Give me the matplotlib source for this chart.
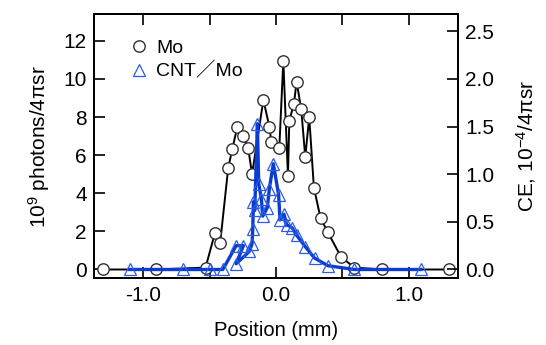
import matplotlib
matplotlib.use("Agg")
import matplotlib.pyplot as plt
from matplotlib.ticker import FixedLocator

plt.rcParams['font.family'] = ['Liberation Sans', 'Noto Sans CJK JP', 'DejaVu Sans']
plt.rcParams['mathtext.fontset'] = 'custom'
plt.rcParams['mathtext.rm'] = 'Liberation Sans'
plt.rcParams['axes.unicode_minus'] = False

# Mo series (position mm, 10^9 photons/4pi sr)
mo_x = [-1.30, -0.90, -0.53, -0.46, -0.42, -0.36, -0.33, -0.29, -0.25, -0.21, -0.18,
        -0.095, -0.05, -0.035, 0.025, 0.055, 0.09, 0.10, 0.135, 0.155, 0.19, 0.22,
        0.25, 0.285, 0.335, 0.39, 0.49, 0.59, 0.80, 1.30]
mo_y = [0.0, 0.0, 0.1, 1.9, 1.4, 5.3, 6.3, 7.5, 7.0, 6.4, 5.0,
        8.9, 7.5, 6.7, 6.4, 10.95, 4.9, 7.8, 8.7, 9.86, 8.4, 5.9,
        8.0, 4.3, 2.7, 1.95, 0.65, 0.1, 0.0, 0.0]

# CNT/Mo series
cnt_x = [-1.10, -0.70, -0.50, -0.40, -0.30, -0.245, -0.30, -0.20, -0.18, -0.175,
         -0.17, -0.16, -0.14, -0.13, -0.11, -0.10, -0.065, -0.05, -0.02, 0.02,
         0.03, 0.06, 0.08, 0.12, 0.155, 0.22, 0.29, 0.39, 0.59, 1.09]
cnt_y = [0.0, 0.0, 0.0, 0.0, 1.25, 1.25, 0.3, 0.95, 1.35, 2.1,
         3.55, 3.1, 7.65, 4.5, 3.7, 2.8, 3.25, 4.25, 5.55, 3.9,
         2.6, 2.9, 2.35, 2.2, 1.8, 1.2, 0.6, 0.2, 0.0, 0.0]

x_major = [-1.0, 0.0, 1.0]
x_minor = [-0.5, 0.5]
x_labels = ['-1.0', '0.0', '1.0']
y_left_ticks = [0, 2, 4, 6, 8, 10, 12]
y_right_ticks = [0.0, 0.5, 1.0, 1.5, 2.0, 2.5]

fig = plt.figure(figsize=(5.46, 3.45), dpi=100)
ax = fig.add_axes([0.172, 0.194, 0.667, 0.765])

ax.plot(mo_x, mo_y, color='black', lw=1.4, marker='o', ms=8.2,
        mfc='white', mec='#303030', mew=1.0, label='Mo', zorder=3)
ax.plot(cnt_x, cnt_y, color='#0a3cd2', lw=2.4, marker='^', ms=8.8,
        mfc='none', mec='#2b5ce6', mew=0.9, label='CNT／Mo', zorder=4)

ax.set_xlim(-1.37, 1.37)
ax.set_ylim(-0.45, 13.4)
ax.xaxis.set_major_locator(FixedLocator(x_major))
ax.xaxis.set_minor_locator(FixedLocator(x_minor))
ax.set_xticklabels(x_labels)
ax.yaxis.set_major_locator(FixedLocator(y_left_ticks))
ax.tick_params(axis='both', which='both', direction='in', top=True,
               labelsize=15, width=1.2)
ax.tick_params(axis='both', which='major', length=8)
ax.tick_params(axis='both', which='minor', length=8)
ax.tick_params(axis='x', pad=6)
ax.tick_params(axis='y', pad=5)
for s in ax.spines.values():
    s.set_linewidth(1.4)

ax.set_xlabel('Position (mm)', fontsize=14.5, labelpad=11)
ax.set_ylabel(r'$\mathregular{10^9}$ photons/4πsr', fontsize=15, labelpad=8)

ax2 = ax.twinx()
ylo, yhi = ax.get_ylim()
ax2.set_ylim(ylo / 5.0, yhi / 5.0)
ax2.yaxis.set_major_locator(FixedLocator(y_right_ticks))
ax2.set_yticklabels([f'{v:.1f}' for v in y_right_ticks])
ax2.tick_params(axis='y', direction='in', labelsize=15, length=8, width=1.2, pad=5)
ax2.set_ylabel(r'CE, $\mathregular{10^{-4}}$/4πsr', fontsize=15, labelpad=14)
for s in ax2.spines.values():
    s.set_linewidth(1.4)

leg = ax.legend(loc='upper left', bbox_to_anchor=(0.07, 0.95), frameon=False,
                fontsize=14, handlelength=0.8, handletextpad=0.5,
                labelspacing=0.3, borderaxespad=0.2)
for h in leg.legend_handles:
    h.set_linestyle('none')

fig.savefig('out.png', dpi=100)
